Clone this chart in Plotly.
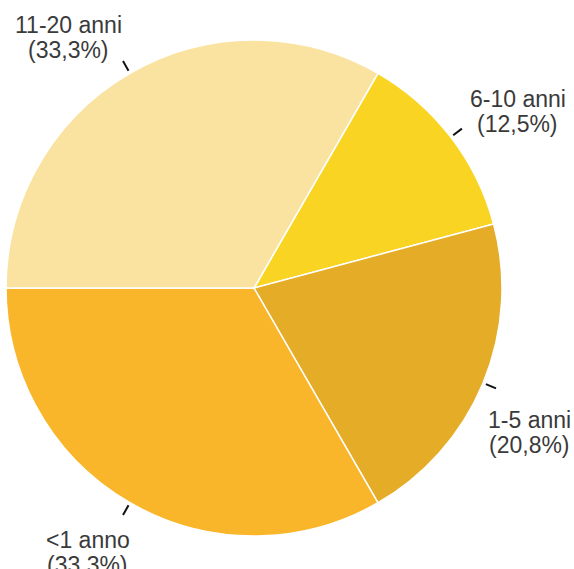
import numpy as np
import plotly.graph_objects as go

# age of the item, share of answers
categorie = ["6-10 anni", "1-5 anni", "<1 anno", "11-20 anni"]
valori = [12.5, 20.8, 33.3, 33.3]
etichette = ["(12,5%)", "(20,8%)", "(33,3%)", "(33,3%)"]
colori = ["#F9D423", "#E5AC27", "#FAB62A", "#FAE3A0"]

W, H = 574, 569
cx, cy, R = 254, 288, 248   # pie centre / radius in px
rotazione = 30
# small px nudges for the label blocks (layout only)
spost = [(16, 13), (-13, 24), (-10, -6), (-29, 19)]

fig = go.Figure()
fig.add_trace(go.Pie(
    labels=categorie, values=valori, sort=False,
    direction="clockwise", rotation=rotazione,
    marker=dict(colors=colori, line=dict(color="white", width=1.5)),
    textinfo="none", hoverinfo="label+percent", showlegend=False,
    domain=dict(x=[(cx - R) / W, (cx + R) / W], y=[(H - cy - R) / H, (H - cy + R) / H]),
))

font = dict(family="Liberation Sans", size=23, color="#3a3a3a")
tot = sum(valori)
start = rotazione
for cat, v, lab, (dx, dy) in zip(categorie, valori, etichette, spost):
    mid = np.radians(start + v / tot * 360 / 2)
    start += v / tot * 360
    sx, sy = np.sin(mid), -np.cos(mid)
    x0, y0 = cx + 251 * sx, cy + 251 * sy
    x1, y1 = cx + 262 * sx, cy + 262 * sy
    fig.add_shape(type="line", xref="paper", yref="paper",
                  x0=x0 / W, y0=1 - y0 / H, x1=x1 / W, y1=1 - y1 / H,
                  line=dict(color="#111111", width=2))
    tx, ty = cx + 312 * sx + dx, cy + 312 * sy + dy
    for riga, off in [(cat, -12), (lab, 13)]:
        fig.add_annotation(x=tx / W, y=1 - (ty + off) / H, xref="paper", yref="paper",
                           text=riga, showarrow=False,
                           xanchor="center", yanchor="middle", font=font)

fig.update_layout(width=W, height=H, margin=dict(l=0, r=0, t=0, b=0),
                  paper_bgcolor="white", plot_bgcolor="white")
fig.write_html("out.html", config={"displayModeBar": False},
               post_script="document.body.style.margin='0';")
